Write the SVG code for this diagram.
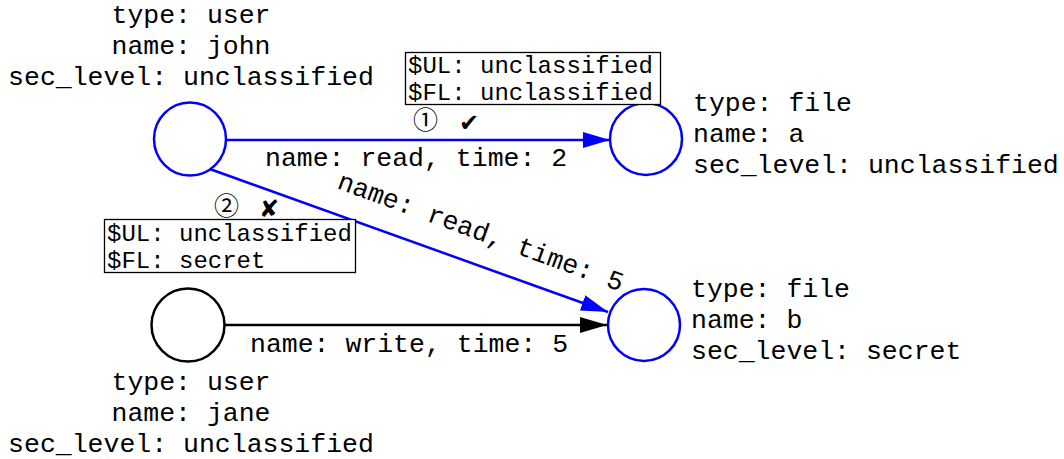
<svg xmlns="http://www.w3.org/2000/svg" width="1064" height="459" viewBox="0 0 1064 459">
  <style>
    .lbl { font-family: "Liberation Mono", "Courier New", monospace; font-size: 26.5px; fill: #000; }
    .box { font-family: "Liberation Mono", "Courier New", monospace; font-size: 24px; fill: #000; }
    .mark { font-family: "Noto Sans CJK JP", "DejaVu Serif", serif; font-size: 25px; fill: #000; }
    .sym { font-family: "DejaVu Sans", sans-serif; font-size: 24px; fill: #000; }
    .node { fill: #fff; stroke-width: 2.5; }
    .blue { stroke: #0000ff; }
    .black { stroke: #000; }
    .edge { fill: none; stroke-width: 2.5; }
    .frame { fill: #fff; stroke: #000; stroke-width: 1.3; }
  </style>
  <defs>
    <marker id="arrow-blue" viewBox="0 0 27 16" refX="27" refY="8" markerWidth="27" markerHeight="16" markerUnits="userSpaceOnUse" orient="auto">
      <path d="M0,0 L27,8 L0,16 Z" fill="#0000ff"/>
    </marker>
    <marker id="arrow-black" viewBox="0 0 27 16" refX="27" refY="8" markerWidth="27" markerHeight="16" markerUnits="userSpaceOnUse" orient="auto">
      <path d="M0,0 L27,8 L0,16 Z" fill="#000"/>
    </marker>
  </defs>

  <!-- connectors -->
  <g id="edges">
    <line class="edge blue" x1="226" y1="140" x2="610" y2="140" marker-end="url(#arrow-blue)"/>
    <line class="edge blue" x1="207" y1="168" x2="608" y2="312" marker-end="url(#arrow-blue)"/>
    <line class="edge black" x1="225" y1="325" x2="607" y2="325" marker-end="url(#arrow-black)"/>
    <text class="lbl" x="265" y="166">name: read, time: 2</text>
    <text class="lbl" transform="translate(336,188) rotate(20)">name: read, time: 5</text>
    <text class="lbl" x="250" y="352">name: write, time: 5</text>
  </g>

  <!-- user john -->
  <g id="john">
    <ellipse class="node blue" cx="190" cy="139" rx="36" ry="36.5"/>
    <text class="lbl" text-anchor="middle" x="191" y="23">type: user</text>
    <text class="lbl" text-anchor="middle" x="191" y="54">name: john</text>
    <text class="lbl" text-anchor="middle" x="191" y="85">sec_level: unclassified</text>
  </g>

  <!-- file a -->
  <g id="file-a">
    <circle class="node blue" cx="646" cy="139" r="36"/>
    <text class="lbl" x="693" y="111">type: file</text>
    <text class="lbl" x="693" y="142">name: a</text>
    <text class="lbl" x="693" y="173">sec_level: unclassified</text>
  </g>

  <!-- user jane -->
  <g id="jane">
    <circle class="node black" cx="188" cy="325" r="36.5"/>
    <text class="lbl" text-anchor="middle" x="191" y="390">type: user</text>
    <text class="lbl" text-anchor="middle" x="191" y="421">name: jane</text>
    <text class="lbl" text-anchor="middle" x="191" y="452">sec_level: unclassified</text>
  </g>

  <!-- file b -->
  <g id="file-b">
    <circle class="node blue" cx="644" cy="325" r="36"/>
    <text class="lbl" x="691" y="297">type: file</text>
    <text class="lbl" x="691" y="328">name: b</text>
    <text class="lbl" x="691" y="359">sec_level: secret</text>
  </g>

  <!-- check for access 1 -->
  <g id="check-1">
    <rect class="frame" x="405.5" y="52.5" width="255" height="52"/>
    <text class="box" x="408" y="73">$UL: unclassified</text>
    <text class="box" x="408" y="100">$FL: unclassified</text>
    <text class="mark" x="413" y="129">①</text>
    <text class="sym" x="459" y="131">✔</text>
  </g>

  <!-- check for access 2 -->
  <g id="check-2">
    <rect class="frame" x="104.5" y="219.5" width="251" height="53"/>
    <text class="box" x="107" y="241">$UL: unclassified</text>
    <text class="box" x="107" y="268">$FL: secret</text>
    <text class="mark" x="214" y="215">②</text>
    <text class="sym" x="259" y="217">✘</text>
  </g>
</svg>
